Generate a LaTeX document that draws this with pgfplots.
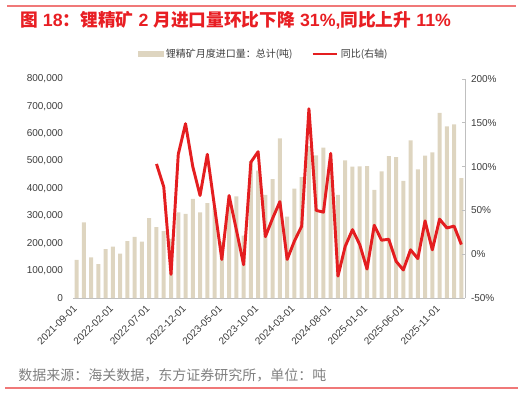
\documentclass[border=0pt]{standalone}
\usepackage{pgfplots}
\pgfplotsset{compat=1.18}
\usepackage{pgfplotstable}
\usepackage{fontspec}
\setmainfont{Liberation Sans}
\newfontfamily\cjk{Noto Sans CJK SC}
\definecolor{barc}{RGB}{222,213,192}
\definecolor{liner}{RGB}{228,30,32}
\definecolor{titler}{RGB}{232,30,35}
\definecolor{framer}{RGB}{240,120,120}
\definecolor{axgray}{RGB}{191,191,191}
\definecolor{txt}{RGB}{60,60,60}
\definecolor{srcgray}{RGB}{128,128,128}

\pgfplotstableread{
x v
0 139000
1 276000
2 148000
3 124000
4 179000
5 188000
6 162000
7 208000
8 223000
9 206000
10 292000
11 259000
12 244000
13 215000
14 313000
15 307000
16 362000
17 313000
18 347000
19 328000
20 205000
21 345000
22 371000
23 228000
24 500000
25 465000
26 377000
27 434000
28 583000
29 297000
30 400000
31 442000
32 555000
33 521000
34 549000
35 490000
36 377000
37 503000
38 480000
39 481000
40 482000
41 395000
42 463000
43 518000
44 515000
45 428000
46 576000
47 470000
48 520000
49 532000
50 676000
51 627000
52 634000
53 438000
}\bars

\pgfplotstableread{
x y
11 103
12 77
13 -23
14 114
15 149
16 100
17 67
18 114
19 54
20 -6
21 67
22 28
23 -12
24 105
25 117
26 20
27 41
28 60
29 -6
30 15
31 32
32 166
33 50
34 48
35 115
36 -25
37 9
38 28
39 11
40 -17
41 33
42 16
43 17
44 -8
45 -18
46 5
47 -5
48 38
49 5
50 40
51 30
52 32
53 11
}\yoy

\begin{document}
\begin{tikzpicture}
\path[use as bounding box] (0,0) rectangle (392.25pt,297pt);
\draw[framer, line width=1pt] (5.25pt,292.5pt) -- (387pt,292.5pt);
\node[anchor=west, inner sep=0pt, text=titler, font=\fontsize{13.3}{16}\selectfont\bfseries] at (15pt,282pt)
  {{\cjk 图} 18{\cjk ：锂精矿} 2 {\cjk 月进口量环比下降} 31\%,{\cjk 同比上升} 11\%};
\node[anchor=west, inner sep=0pt, text=srcgray, font=\fontsize{10.5}{12}\selectfont\cjk] at (13.5pt,15.75pt)
  {数据来源：海关数据，东方证券研究所，单位：吨};
\draw[framer, line width=1pt] (3.75pt,6pt) -- (388.5pt,6pt);

\begin{axis}[
  at={(54.75pt,73.5pt)}, anchor=south west,
  width=294pt, height=164.25pt, scale only axis,
  xmin=-0.5, xmax=53.5, ymin=0, ymax=800000,
  axis x line*=bottom, axis y line*=left,
  x axis line style={draw=axgray, line width=0.6pt},
  y axis line style={draw=none},
  ytick={0,100000,...,800000},
  scaled y ticks=false,
  /pgf/number format/fixed,
  /pgf/number format/1000 sep={,},
  /pgf/number format/assume math mode=true,
  ytick style={draw=none}, xtick style={draw=none},
  xtick={0,5,...,50},
  xticklabels={2021-09-01,2022-02-01,2022-07-01,2022-12-01,2023-05-01,2023-10-01,2024-03-01,2024-08-01,2025-01-01,2025-06-01,2025-11-01},
  xticklabel style={rotate=45, anchor=east, xshift=1pt, yshift=-1pt},
  tick label style={font=\fontsize{7.5}{9}\selectfont, text=txt},
  yticklabel style={xshift=-4pt},
  ybar, bar width=3pt,
]
\addplot[fill=barc, draw=none] table[x=x,y=v]{\bars};
\end{axis}

\begin{axis}[
  at={(54.75pt,73.5pt)}, anchor=south west,
  width=294pt, height=164.25pt, scale only axis,
  xmin=-0.5, xmax=53.5, ymin=-50, ymax=200,
  axis x line=none, axis y line*=right,
  y axis line style={draw=axgray, line width=0.6pt},
  ytick={-50,0,...,200},
  /pgf/number format/assume math mode=true,
  yticklabel={\pgfmathprintnumber{\tick}\%},
  yticklabel style={font=\fontsize{7.5}{9}\selectfont, text=txt, xshift=1pt},
  tick align=inside, major tick length=2.5pt,
  ytick style={draw=axgray, line width=0.6pt},
  legend columns=2,
  legend style={at={(0.487,1)}, anchor=center, yshift=18.75pt, draw=none, fill=none,
    font=\fontsize{7.5}{9}\selectfont\cjk, text=txt,
    /tikz/every even column/.append style={column sep=12pt}},
]
\addlegendimage{legend image code/.code={\fill[barc] (0pt,-2pt) rectangle (18.75pt,2pt);}}
\addlegendentry{锂精矿月度进口量：总计(吨)}
\addplot[liner, line width=2.2pt, line join=round, no marks,
  legend image code/.code={\draw[liner, line width=2.2pt] (0pt,0pt) -- (18pt,0pt);}] table[x=x,y=y]{\yoy};
\addlegendentry{同比(右轴)}
\end{axis}
\end{tikzpicture}
\end{document}
